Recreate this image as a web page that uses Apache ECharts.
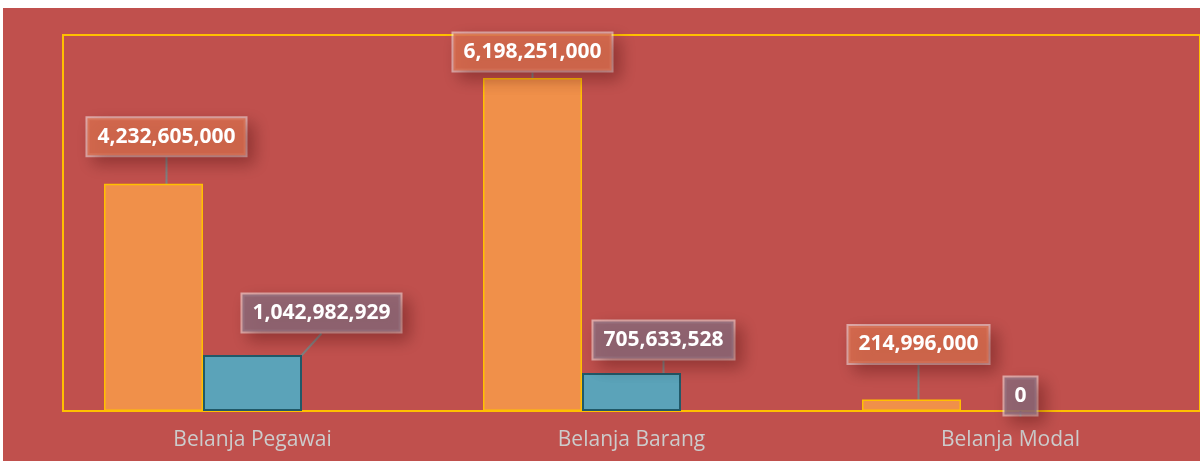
<!DOCTYPE html>
<html>
<head>
<meta charset="utf-8">
<script src="https://cdn.jsdelivr.net/npm/echarts@6/dist/echarts.min.js"></script>
<style>
  html, body { margin: 0; padding: 0; background: #ffffff; }
  #chart { position: absolute; left: 3px; top: 8px; width: 1197px; height: 453px; background: #C0504D; }
</style>
</head>
<body>
<div id="chart"></div>
<script>
const categories = ['Belanja Pegawai', 'Belanja Barang', 'Belanja Modal'];
const seriesA = [4232605000, 6198251000, 214996000];
const seriesB = [1042982929, 705633528, 0];
const seriesC = ['-', '-', '-']; // empty third series slot (keeps clusters off-centre as in source)

// label centre offsets relative to the top-centre of each bar (styling)
const offsetsA = [[13, -47], [0, -26], [7, -55]];
const offsetsB = [[69, -42], [32, -33], [10, -15]];
const LABEL_HALF_H = 19;

const chart = echarts.init(document.getElementById('chart'));

function labelStyle(bg) {
  return {
    show: true,
    position: 'top',
    formatter: p => p.value.toLocaleString('en-US'),
    color: '#ffffff',
    fontFamily: 'Open Sans',
    fontWeight: 'bold',
    fontSize: 21,
    lineHeight: 23,
    padding: [7, 10, 7, 10],
    backgroundColor: bg,
    borderColor: 'rgba(255,255,255,0.5)',
    borderWidth: 2,
    shadowColor: 'rgba(60,0,0,0.4)',
    shadowBlur: 16,
    shadowOffsetX: 7,
    shadowOffsetY: 7
  };
}

function layoutFor(offsets) {
  return function (params) {
    const o = offsets[params.dataIndex];
    const cx = params.rect.x + params.rect.width / 2;
    const top = params.rect.y;
    const lx = cx + o[0], ly = top + o[1];
    return {
      x: lx,
      y: ly,
      align: 'center',
      verticalAlign: 'middle',
      labelLinePoints: [[cx, top], [(cx + lx) / 2, (top + ly + LABEL_HALF_H) / 2], [lx, ly + LABEL_HALF_H]]
    };
  };
}

chart.setOption({
  animation: false,
  grid: {
    show: true,
    left: 60, top: 27, width: 1138, height: 376,
    borderColor: '#FFC000', borderWidth: 2,
    backgroundColor: 'transparent'
  },
  xAxis: {
    type: 'category',
    data: categories,
    axisLine: { show: true, lineStyle: { color: '#FFC000', width: 2 } },
    axisTick: { show: false },
    axisLabel: { color: '#cccccc', fontFamily: 'Open Sans', fontSize: 21, margin: 19 }
  },
  yAxis: {
    type: 'value',
    min: 0, max: 7000000000,
    show: false,
    splitLine: { show: false }
  },
  series: [
    {
      type: 'bar',
      data: seriesA,
      barWidth: 99,
      barGap: '0%',
      itemStyle: { color: '#F0904A', borderColor: '#FFC000', borderWidth: 1.5 },
      label: labelStyle('rgba(214,108,78,0.85)'),
      labelLayout: layoutFor(offsetsA),
      labelLine: { show: true, lineStyle: { color: '#808080', width: 2 } }
    },
    {
      type: 'bar',
      data: seriesB.map(v => v === 0 ? { value: v, itemStyle: { borderWidth: 0 } } : v),
      barWidth: 99,
      barGap: '0%',
      itemStyle: { color: '#5BA3B9', borderColor: '#215968', borderWidth: 2 },
      label: labelStyle('rgba(140,105,120,0.85)'),
      labelLayout: layoutFor(offsetsB),
      labelLine: { show: true, lineStyle: { color: '#808080', width: 2 } }
    },
    {
      type: 'bar',
      data: seriesC,
      barWidth: 99,
      barGap: '0%'
    }
  ]
});
</script>
</body>
</html>
